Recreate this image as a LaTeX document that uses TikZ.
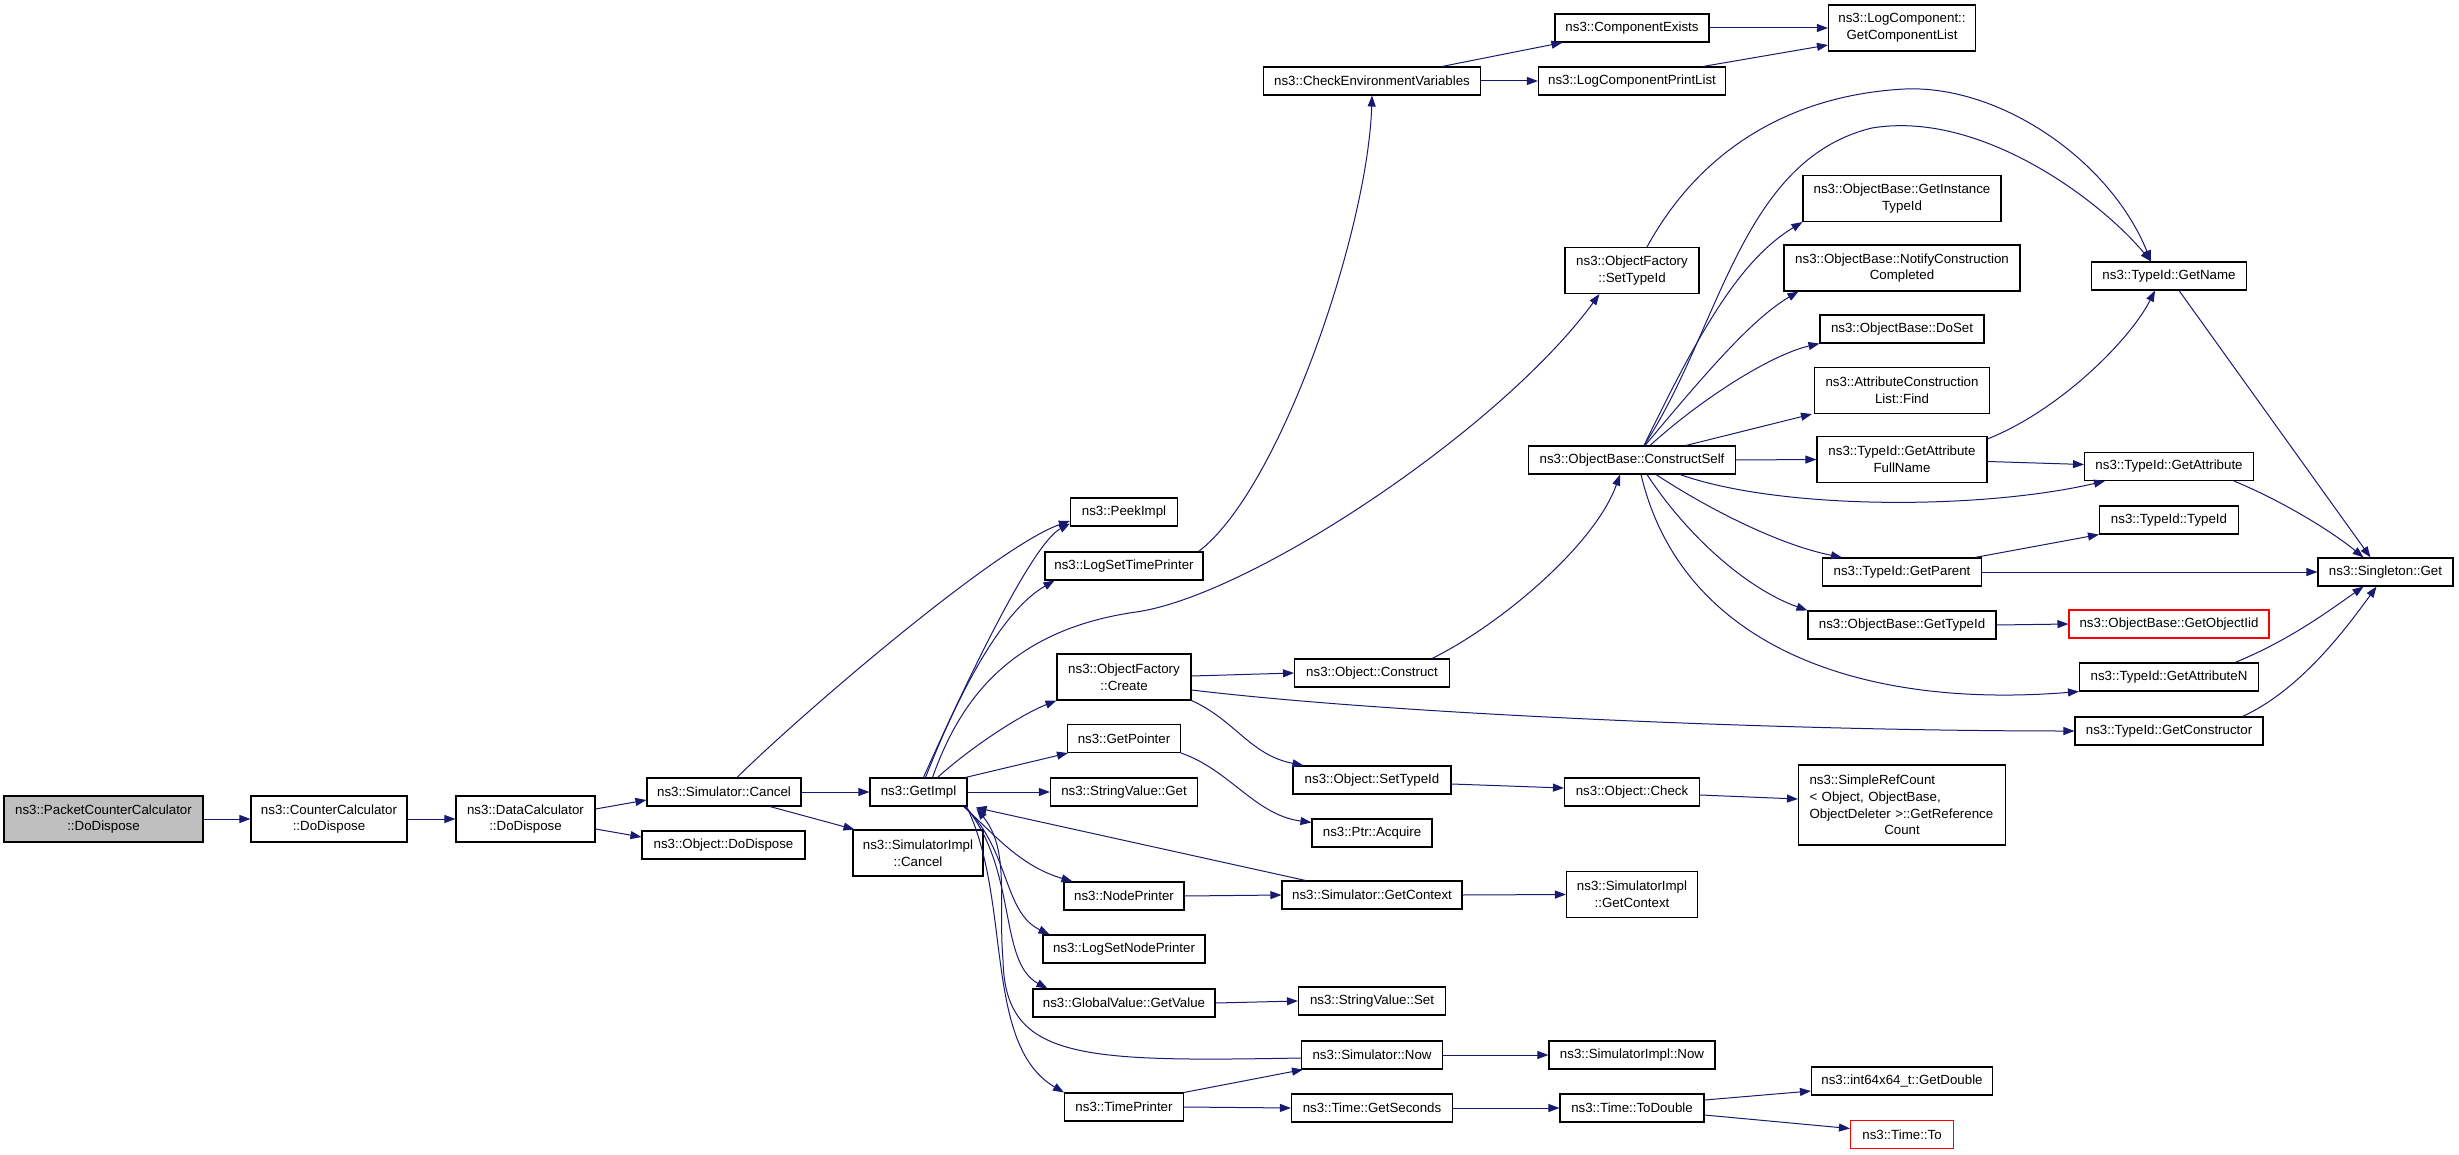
\documentclass[tikz,border=0pt]{standalone}
\usepackage{fontspec}
\setmainfont{Liberation Sans}
\usetikzlibrary{arrows.meta, calc}
\definecolor{edgeblue}{RGB}{25,25,112}
\definecolor{rootgrey}{RGB}{191,191,191}
\tikzstyle{fn}=[draw=black, fill=white, shape=rectangle, line width=1.1pt, inner sep=0pt, minimum height=28, align=center, font=\fontsize{13.3}{16.8}\selectfont]
\tikzstyle{fn2}=[fn, minimum height=46]
\tikzstyle{root}=[fn2, fill=rootgrey]
\tikzstyle{miss}=[fn, draw=red]
\tikzstyle{call}=[draw=edgeblue, line width=1pt, -{Triangle[length=11pt, width=8pt]}]

\begin{document}
\begin{tikzpicture}[x=1pt, y=-1pt]
	\useasboundingbox (0,0) rectangle (2459,1155);

	\node[style=root, minimum width=199] (1) at (103.5,819) {ns3::PacketCounterCalculator\\::DoDispose};
	\node[style=fn2, minimum width=156] (2) at (329,819) {ns3::CounterCalculator\\::DoDispose};
	\node[style=fn2, minimum width=139] (3) at (525.5,819) {ns3::DataCalculator\\::DoDispose};
	\node[style=fn, minimum width=154] (4) at (724,792) {ns3::Simulator::Cancel};
	\node[style=fn, minimum width=163] (5) at (723.5,845) {ns3::Object::DoDispose};
	\node[style=fn, minimum width=97] (6) at (918.5,792) {ns3::GetImpl};
	\node[style=fn2, minimum width=130] (7) at (918,853) {ns3::SimulatorImpl\\::Cancel};
	\node[style=fn, minimum width=107] (8) at (1124,512) {ns3::PeekImpl};
	\node[style=fn, minimum width=158] (9) at (1124,566) {ns3::LogSetTimePrinter};
	\node[style=fn2, minimum width=134] (10) at (1124,677) {ns3::ObjectFactory\\::Create};
	\node[style=fn, minimum width=113] (11) at (1124,738.5) {ns3::GetPointer};
	\node[style=fn, minimum width=147] (12) at (1124,792) {ns3::StringValue::Get};
	\node[style=fn, minimum width=120] (13) at (1124,896) {ns3::NodePrinter};
	\node[style=fn, minimum width=162] (14) at (1124,949) {ns3::LogSetNodePrinter};
	\node[style=fn, minimum width=182] (15) at (1124,1003) {ns3::GlobalValue::GetValue};
	\node[style=fn, minimum width=119] (16) at (1124,1107) {ns3::TimePrinter};
	\node[style=fn, minimum width=217] (17) at (1372,81) {ns3::CheckEnvironmentVariables};
	\node[style=fn, minimum width=155] (18) at (1372,673) {ns3::Object::Construct};
	\node[style=fn, minimum width=158] (19) at (1372,780) {ns3::Object::SetTypeId};
	\node[style=fn, minimum width=120] (20) at (1372,833) {ns3::Ptr::Acquire};
	\node[style=fn, minimum width=180] (21) at (1372,895) {ns3::Simulator::GetContext};
	\node[style=fn, minimum width=147] (22) at (1372,1001) {ns3::StringValue::Set};
	\node[style=fn, minimum width=141] (23) at (1372,1055) {ns3::Simulator::Now};
	\node[style=fn, minimum width=161] (24) at (1372,1108) {ns3::Time::GetSeconds};
	\node[style=fn, minimum width=154] (25) at (1632,28) {ns3::ComponentExists};
	\node[style=fn, minimum width=187] (26) at (1632,81) {ns3::LogComponentPrintList};
	\node[style=fn2, minimum width=134] (27) at (1632,270.5) {ns3::ObjectFactory\\::SetTypeId};
	\node[style=fn, minimum width=207] (28) at (1632,460) {ns3::ObjectBase::ConstructSelf};
	\node[style=fn, minimum width=135] (29) at (1632,792) {ns3::Object::Check};
	\node[style=fn2, minimum width=131] (30) at (1632,894.5) {ns3::SimulatorImpl\\::GetContext};
	\node[style=fn, minimum width=166] (31) at (1632,1055) {ns3::SimulatorImpl::Now};
	\node[style=fn, minimum width=144] (32) at (1632,1108) {ns3::Time::ToDouble};
	\node[style=fn2, minimum width=147] (33) at (1902,28) {ns3::LogComponent::\\GetComponentList};
	\node[style=fn2, minimum width=198] (34) at (1902,198.5) {ns3::ObjectBase::GetInstance\\TypeId};
	\node[style=fn2, minimum width=236] (35) at (1902,268) {ns3::ObjectBase::NotifyConstruction\\Completed};
	\node[style=fn, minimum width=164] (36) at (1902,329) {ns3::ObjectBase::DoSet};
	\node[style=fn2, minimum width=175] (37) at (1902,390.5) {ns3::AttributeConstruction\\List::Find};
	\node[style=fn2, minimum width=170] (38) at (1902,459.5) {ns3::TypeId::GetAttribute\\FullName};
	\node[style=fn, minimum width=159] (39) at (1902,572) {ns3::TypeId::GetParent};
	\node[style=fn, minimum width=188] (40) at (1902,625) {ns3::ObjectBase::GetTypeId};
	\node[style=fn, minimum width=207, minimum height=80, text width=185, align=left] (41) at (1902,805) {ns3::SimpleRefCount\\< Object, ObjectBase,\\ObjectDeleter >::GetReference\\\makebox[185pt]{Count}};
	\node[style=fn, minimum width=181] (42) at (1902,1081) {ns3::int64x64\_t::GetDouble};
	\node[style=miss, minimum width=103] (43) at (1902,1134.5) {ns3::Time::To};
	\node[style=fn, minimum width=155] (44) at (2169,276) {ns3::TypeId::GetName};
	\node[style=fn, minimum width=169] (45) at (2169,466.5) {ns3::TypeId::GetAttribute};
	\node[style=fn, minimum width=139] (46) at (2169,520) {ns3::TypeId::TypeId};
	\node[style=miss, minimum width=200] (47) at (2169,624) {ns3::ObjectBase::GetObjectIid};
	\node[style=fn, minimum width=179] (48) at (2169,677) {ns3::TypeId::GetAttributeN};
	\node[style=fn, minimum width=188] (49) at (2169,731) {ns3::TypeId::GetConstructor};
	\node[style=fn, minimum width=135] (50) at (2385.5,572) {ns3::Singleton::Get};

	\draw[style=call] (1.east) to (2.west);
	\draw[style=call] (2.east) to (3.west);
	\draw[style=call] ($(3.east)+(0,-10)$) to ($(4.west)+(0,8)$);
	\draw[style=call] ($(3.east)+(0,10)$) to ($(5.west)+(0,-8)$);
	\draw[style=call] (4.east) to (6.west);
	\draw[style=call] ($(4.south)+(46,0)$) to ($(7.north west)+(2,0)$);
	\draw[style=call] ($(4.north)+(13,0)$) .. controls (797,718) and (995,547) .. ($(8.west)+(0,9)$);
	\draw[style=call] ($(6.north)+(5,0)$) .. controls (958,700) and (1030,545) .. ($(8.south west)+(0,-3)$);
	\draw[style=call] ($(6.north)+(7,0)$) .. controls (950,715) and (995,615) .. ($(9.south west)+(10,0)$);
	\draw[style=call] ($(6.north)+(14,0)$) .. controls (960,700) and (1010,630) .. (1136,612) .. controls (1250,596) and (1500,430) .. ($(27.south west)+(35,0)$);
	\draw[style=call] ($(6.north)+(19,0)$) .. controls (970,748) and (1020,715) .. (10.south west);
	\draw[style=call] ($(6.north east)+(-2,0)$) to ($(11.south west)+(1,0)$);
	\draw[style=call] (6.east) to (12.west);
	\draw[style=call] ($(6.south east)+(-4,0)$) .. controls (995,835) and (1020,866) .. ($(13.north west)+(9,0)$);
	\draw[style=call] ($(6.south east)+(-3,0)$) .. controls (1010,850) and (1003,912) .. ($(14.north west)+(7,0)$);
	\draw[style=call] ($(6.south east)+(-2,0)$) .. controls (1018,870) and (998,962) .. ($(15.north west)+(15,0)$);
	\draw[style=call] ($(6.south east)+(-1,0)$) .. controls (1012,900) and (983,1045) .. (16.north west);
	\draw[style=call] ($(21.north west)+(24,0)$) to ($(6.south east)+(8,1)$);
	\draw[style=call] ($(23.west)+(0,3)$) .. controls (1080,1062) and (1005,1060) .. (1003,960) .. controls (998,900) and (1010,850) .. ($(6.south east)+(9,2)$);
	\draw[style=call] ($(9.north east)+(-5,0)$) .. controls (1280,490) and (1368,230) .. (17.south);
	\draw[style=call] ($(17.north east)+(-39,0)$) to ($(25.south west)+(8,0)$);
	\draw[style=call] (17.east) to (26.west);
	\draw[style=call] (25.east) to (33.west);
	\draw[style=call] ($(26.north east)+(-23,0)$) to ($(33.west)+(0,17)$);
	\draw[style=call] ($(27.north)+(15,0)$) .. controls (1700,150) and (1790,95) .. (1905,89) .. controls (2000,85) and (2110,160) .. ($(44.north)+(-18,0)$);
	\draw[style=call] ($(10.east)+(0,-1)$) to (18.west);
	\draw[style=call] (10.south east) .. controls (1235,720) and (1250,755) .. ($(19.north west)+(11,0)$);
	\draw[style=call] ($(10.east)+(0,13)$) .. controls (1400,715) and (1800,731) .. (49.west);
	\draw[style=call] (11.south east) .. controls (1230,770) and (1255,815) .. ($(20.north west)+(0,4)$);
	\draw[style=call] ($(18.north east)+(-18,0)$) .. controls (1500,625) and (1595,545) .. ($(28.south)+(-12,0)$);
	\draw[style=call] ($(28.north)+(12,0)$) .. controls (1720,330) and (1740,160) .. (1872,128) .. controls (1980,110) and (2100,200) .. ($(44.north)+(-18,0)$);
	\draw[style=call] ($(28.north)+(12,0)$) .. controls (1700,330) and (1740,260) .. (34.south west);
	\draw[style=call] ($(28.north)+(13,0)$) .. controls (1700,380) and (1750,320) .. ($(35.south west)+(15,0)$);
	\draw[style=call] ($(28.north)+(18,0)$) .. controls (1700,400) and (1770,355) .. (36.south west);
	\draw[style=call] ($(28.north)+(54,0)$) to ($(37.south west)+(-2,0)$);
	\draw[style=call] (28.east) to (38.west);
	\draw[style=call] ($(28.south)+(48,0)$) .. controls (1780,510) and (1980,510) .. ($(45.south west)+(21,0)$);
	\draw[style=call] ($(28.south)+(24,0)$) .. controls (1710,510) and (1780,545) .. ($(39.north west)+(20,0)$);
	\draw[style=call] ($(28.south)+(15,0)$) .. controls (1690,540) and (1750,590) .. (40.north west);
	\draw[style=call] ($(28.south)+(9,0)$) .. controls (1680,640) and (1850,710) .. (48.south west);
	\draw[style=call] ($(38.north east)+(0,3)$) .. controls (2060,410) and (2130,340) .. ($(44.south)+(-14,0)$);
	\draw[style=call] ($(38.east)+(0,2)$) to ($(45.west)+(0,-2)$);
	\draw[style=call] ($(44.south)+(10,0)$) to ($(50.north)+(-15,0)$);
	\draw[style=call] ($(45.south east)+(-20,0)$) .. controls (2280,500) and (2330,530) .. ($(50.north)+(-22,0)$);
	\draw[style=call] ($(39.north east)+(-7,0)$) to (46.south west);
	\draw[style=call] (39.east) to (50.west);
	\draw[style=call] (40.east) to (47.west);
	\draw[style=call] ($(48.north east)+(-24,0)$) .. controls (2290,640) and (2330,610) .. ($(50.south)+(-22,0)$);
	\draw[style=call] ($(49.north east)+(-21,0)$) .. controls (2300,690) and (2345,630) .. ($(50.south)+(-9,0)$);
	\draw[style=call] ($(19.east)+(0,4)$) to ($(29.west)+(0,-4)$);
	\draw[style=call] ($(29.east)+(0,3)$) to ($(41.west)+(0,-6)$);
	\draw[style=call] (13.east) to (21.west);
	\draw[style=call] (21.east) to (30.west);
	\draw[style=call] (15.east) to (22.west);
	\draw[style=call] (16.north east) to ($(23.south west)+(2,0)$);
	\draw[style=call] (16.east) to (24.west);
	\draw[style=call] (23.east) to (31.west);
	\draw[style=call] (24.east) to (32.west);
	\draw[style=call] ($(32.east)+(0,-8)$) to ($(42.west)+(0,10)$);
	\draw[style=call] ($(32.east)+(0,7)$) to ($(43.west)+(0,-6)$);
\end{tikzpicture}
\end{document}
